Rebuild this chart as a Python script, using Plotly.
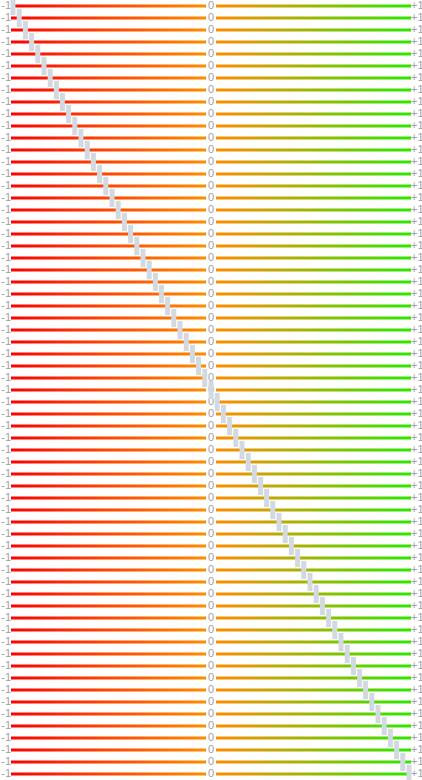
import plotly.graph_objects as go

# ---- data ----
rows = list(range(65))
values = [
    -0.990, -0.959, -0.928, -0.897, -0.866, -0.835, -0.804, -0.773,
    -0.743, -0.712, -0.681, -0.650, -0.619, -0.588, -0.557, -0.526,
    -0.495, -0.464, -0.433, -0.402, -0.371, -0.340, -0.309, -0.278,
    -0.248, -0.217, -0.186, -0.155, -0.124, -0.093, -0.062, -0.031,
    0.000, 0.031, 0.062, 0.093, 0.124, 0.155, 0.186, 0.217,
    0.248, 0.278, 0.309, 0.340, 0.371, 0.402, 0.433, 0.464,
    0.495, 0.526, 0.557, 0.588, 0.619, 0.650, 0.681, 0.712,
    0.743, 0.773, 0.804, 0.835, 0.866, 0.897, 0.928, 0.959,
    0.990,
]
scale_min, scale_mid, scale_max = -1, 0, 1
tick_labels = ["-1", "0", "+1"]

# ---- style ----
gap = 0.025          # gap around the middle label (axis units)
half_h = 0.125       # half thickness of the bar lines (row units)
left_colors = [[0, "#ff0000"], [1, "#ff8c00"]]
right_colors = [[0, "#ff8c00"], [1, "#2ee600"]]
label_color = "#a0a0a0"
marker_color = "#d3d9e0"

def bands(x0, x1):
    xs, ys = [], []
    for r in rows:
        xs += [x0, x1, x1, x0, x0, None]
        ys += [r - half_h, r - half_h, r + half_h, r + half_h, r - half_h, None]
    return xs, ys

fig = go.Figure()

lx, ly = bands(scale_min, scale_mid - gap)
fig.add_trace(go.Scatter(x=lx, y=ly, mode="none", fill="toself",
                         fillgradient=dict(type="horizontal", colorscale=left_colors),
                         hoverinfo="skip", showlegend=False))
rx, ry = bands(scale_mid + gap, scale_max)
fig.add_trace(go.Scatter(x=rx, y=ry, mode="none", fill="toself",
                         fillgradient=dict(type="horizontal", colorscale=right_colors),
                         hoverinfo="skip", showlegend=False))

# labels
font = dict(family="Liberation Sans, Arial, sans-serif", size=11, color=label_color)
for xv, lab, pos in [(scale_min, tick_labels[0], "middle left"),
                     (scale_mid, tick_labels[1], "middle center"),
                     (scale_max, tick_labels[2], "middle right")]:
    fig.add_trace(go.Scatter(x=[xv] * len(rows), y=rows, mode="text",
                             text=[lab] * len(rows), textposition=pos,
                             textfont=font, cliponaxis=False,
                             hoverinfo="skip", showlegend=False))

# value markers
fig.add_trace(go.Scatter(x=values, y=rows, mode="markers",
                         marker=dict(symbol="line-ns", size=13,
                                     line=dict(width=5, color=marker_color)),
                         cliponaxis=False, hoverinfo="skip", showlegend=False))

fig.update_layout(
    width=422, height=780,
    margin=dict(l=0, r=0, t=0, b=0),
    paper_bgcolor="white", plot_bgcolor="white",
    xaxis=dict(range=[-1.055, 1.055], visible=False, fixedrange=True),
    yaxis=dict(range=[64.5, -0.5], visible=False, fixedrange=True),
)

fig.write_html("out.html", config={"displayModeBar": False})
